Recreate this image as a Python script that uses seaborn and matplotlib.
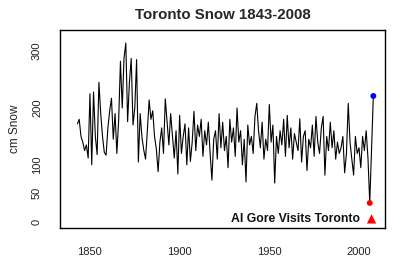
import numpy as np
import pandas as pd
import matplotlib
matplotlib.use("Agg")
import matplotlib.pyplot as plt
import seaborn as sns

# ---- data (cm of snow per winter) ----
years = list(range(1843, 2006))
snow = [
    172, 180, 150, 140, 125, 135, 112,
    225, 100, 228, 150, 118, 245, 190, 150, 122, 117,
    165, 195, 217, 145, 190, 120, 178, 282, 200, 288,
    314, 176, 245, 287, 170, 200, 285, 105, 190, 148,
    126, 110, 160, 214, 180, 195, 150, 128, 88, 140,
    165, 120, 216, 175, 135, 190, 150, 112, 160, 84,
    187, 120, 150, 172, 100, 165, 106, 140, 194, 125,
    170, 150, 180, 115, 160, 135, 175, 120, 73, 145,
    160, 110, 190, 130, 175, 125, 150, 95, 180, 140,
    165, 115, 200, 140, 160, 100, 145, 70, 170, 135,
    150, 120, 185, 208, 160, 130, 175, 110, 145, 125,
    206, 140, 170, 68, 150, 120, 160, 135, 180, 115,
    187, 130, 165, 110, 155, 140, 125, 181, 105, 150,
    160, 90, 145, 130, 170, 115, 185, 140, 120, 165,
    185, 82, 150, 125, 175, 130, 160, 110, 140, 120,
    130, 150, 86, 120, 208, 140, 110, 82, 150, 120,
    130, 95, 150, 125, 160, 112,
]
low_year, low_value = 2006, 33
high_year, high_value = 2008, 221
gore_year, gore_value = 2007, 5
gore_label = "Al Gore Visits Toronto"
title = "Toronto Snow 1843-2008"
ylabel = "cm Snow"
xticks = [1850, 1900, 1950, 2000]
yticks = [0, 50, 100, 150, 200, 250, 300]
ytick_labels = ["0", "50", "100", "", "200", "", "300"]

all_years = years + [low_year, high_year]
all_snow = snow + [low_value, high_value]
df = pd.DataFrame({"year": all_years, "snow": all_snow})

sns.set_style("white")
plt.rcParams["font.family"] = ["Liberation Sans", "DejaVu Sans"]

fig = plt.figure(figsize=(4.0, 2.73), dpi=100)
ax = fig.add_axes([60 / 400, 45 / 273, 325 / 400, 198 / 273])

sns.lineplot(data=df, x="year", y="snow", ax=ax, color="black", linewidth=0.8)
sns.scatterplot(x=[low_year], y=[low_value], ax=ax, color="red", s=18, edgecolor="none", zorder=5)
sns.scatterplot(x=[high_year], y=[high_value], ax=ax, color="blue", s=18, edgecolor="none", zorder=5)
sns.scatterplot(x=[gore_year], y=[gore_value], ax=ax, color="red", marker="^", s=45, edgecolor="none", zorder=5)
ax.text(2000.5, gore_value, gore_label, ha="right", va="center", fontsize=8.8, fontweight="bold", color="#111111")

ax.set_xlim(1833.3, 2014.5)
ax.set_ylim(-11, 337)
ax.set_xticks(xticks)
ax.set_xticklabels([str(t) for t in xticks])
ax.set_yticks(yticks)
ax.set_yticklabels(ytick_labels, rotation=90, va="center")
ax.tick_params(axis="both", direction="out", length=5, width=0.9, color="black",
               labelsize=8, labelcolor="#222222")
ax.tick_params(axis="x", pad=9)
ax.tick_params(axis="y", pad=8)
for s in ax.spines.values():
    s.set_color("black")
    s.set_linewidth(1.0)
ax.set_xlabel("")
ax.set_ylabel(ylabel, fontsize=8.5, labelpad=8, color="#222222")
ax.set_title(title, fontsize=10.8, fontweight="bold", pad=8)

fig.savefig("out.png", dpi=100)
